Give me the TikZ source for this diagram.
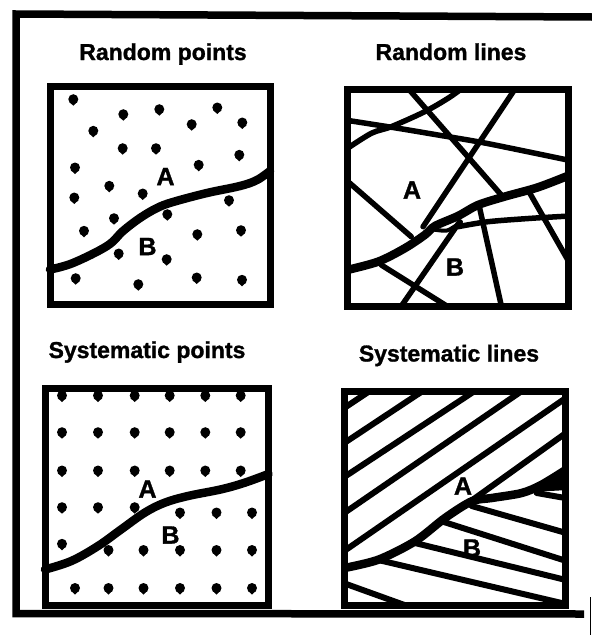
\documentclass[tikz,border=0pt]{standalone}
\usepackage{fontspec}
\setmainfont{Liberation Sans}[BoldFeatures={FakeBold=1.2}]
\begin{document}
\begin{tikzpicture}[x=1pt,y=-1pt,
  frame/.style={line width=7pt, line join=miter},
  rline/.style={line width=5.5pt, line cap=round, line join=round},
  sline/.style={line width=6pt, line cap=round, line join=round},
  bound/.style={line width=8.5pt, line cap=round, line join=round},
  title/.style={font=\fontsize{23}{27}\selectfont\bfseries, inner sep=0pt, anchor=base},
  lab/.style={font=\fontsize{25}{29}\selectfont\bfseries, inner sep=0pt},
  drop/.pic={\fill (0,-0.5) circle[radius=5]; \fill (-4.3,2) -- (0,6) -- (4.3,2) -- cycle;}]
\useasboundingbox (0,0) rectangle (592,635);
\fill[white] (0,0) rectangle (592,635);
% outer frame
\draw[line width=7.5pt, line join=miter] (592,17) -- (16,14) -- (16,613.5) -- (584,614);
\draw[line width=1.5pt] (590.5,597) -- (590.5,635);
% titles
\node[title] (t1) at (163,60) {Random points};
\node[title] (t2) at (451,60) {Random lines};
\node[title] (t3) at (147,358) {Systematic points};
\node[title] (t4) at (449,361.5) {Systematic lines};
% ---------- panel 1: random points ----------
\foreach \p in {(73.3,99.7),(123.3,114.7),(159.3,109.7),(217.3,108),(93.3,131.3),(191.7,124.7),(242.3,123),
  (122.7,148.7),(156,148.7),(239.3,155.3),(75,168),(198.7,165.3),(109.3,186.3),(142.7,194),(74.3,198),
  (229,200.7),(167.3,214.7),(114,218.7),(84,231.3),(197.3,234.7),(241,230.7),(118.7,254),(166.7,259.7),
  (75.7,278.7),(138.3,284.7),(196.7,278),(242,280.3)}
  \pic at \p {drop};
\draw[bound] plot[smooth, tension=0.6] coordinates {(50,269.5) (73,263) (107,246) (123,231) (140,218) (157,208) (173,202) (207,193) (240,186) (257,180) (270,171)};
\draw[frame] (50,86) rectangle (270,304);
\node[lab] (a1) at (165.5,176.5) {A};
\node[lab] (b1) at (147.5,246.5) {B};
% ---------- panel 2: random lines ----------
\begin{scope}
\clip (347,89) rectangle (568,306);
\draw[rline] (406,86) -- (501.3,195);
\draw[rline] (517,86) -- (423,226.7);
\draw[rline] plot[smooth] coordinates {(345,120) (398,128.3) (438,135) (486.3,143.3) (570,160.5)};
\draw[rline] plot[smooth] coordinates {(345,150) (371.3,133.3) (391.3,126.7) (424.7,111.7) (448,98.3) (464,87)};
\draw[rline] (345,179) -- (411.3,236.7);
\draw[bound] plot[smooth] coordinates {(345,270.5) (378,261.7) (404.7,248.3) (424.7,235) (435,226) (458,216) (478,205) (505,196.5) (538,187.3) (570,175)};
\draw[line width=4pt, line cap=round] plot[smooth] coordinates {(431,229) (447,230.5) (461,222)};
\draw[rline] plot[smooth] coordinates {(458,226.7) (488,221.7) (531.3,218.3) (570,216)};
\draw[rline] (459.7,221.7) -- (400,308);
\draw[rline] (479.7,208.3) -- (501.8,308);
\draw[rline] (528,190) -- (569,262);
\draw[rline] (381.3,265) -- (450,308);
\end{scope}
\draw[frame] (347,89) rectangle (568,306);
\node[lab] (a2) at (412,190) {A};
\node[lab] (b2) at (455,267) {B};
% ---------- panel 3: systematic points ----------
\foreach \y in {396,432.7,471} \foreach \x in {62,98,134.7,169.7,205.3,240.7} \pic at (\x,\y) {drop};
\foreach \x in {62,98,134.7} \pic at (\x,507.7) {drop};
\pic at (62,544.3) {drop};
\foreach \x in {180,216.5,252} \pic at (\x,513) {drop};
\foreach \x in {108.5,143.5,180,216.5,252} \pic at (\x,550.5) {drop};
\foreach \x in {75,108.5,143.5,180,216.5,252} \pic at (\x,588.5) {drop};
\draw[bound] plot[smooth, tension=0.6] coordinates {(45,569.5) (71.3,561) (98,546) (121.3,529.3) (144.7,512.7) (164.7,502.7) (188,496) (221.3,489.3) (244.7,482.7) (268.5,474)};
\draw[frame] (45,388) rectangle (268.5,605);
\node[lab] (a3) at (147.5,489) {A};
\node[lab] (b3) at (170.5,535) {B};
% ---------- panel 4: systematic lines ----------
\begin{scope}
\clip (344,391) rectangle (565.7,605.7);
\draw[sline] (342,409.5) -- (372,389.5);
\draw[sline] (342,444.5) -- (425,389.5);
\draw[sline] (342,478.5) -- (477,389.5);
\draw[sline] (342,514.5) -- (524,389.5);
\draw[sline] (342,552.5) -- (568,396.5);
\draw[sline] (471,501) -- (568,431.5);
\draw[bound] plot[smooth] coordinates {(342,568.5) (378.3,559.7) (415,541.3) (445,518) (471.7,501.3) (491.7,498) (521.7,493) (541.7,484.7) (568,468.5)};
\fill (531,492) -- (568,463) -- (568,490) -- cycle;
\draw[sline] (536.7,493) -- (568,498.5);
\draw[sline] (471.7,506) -- (568,533.5);
\draw[sline] (441.7,521.3) -- (568,561.5);
\draw[sline] (415,543) -- (568,580.5);
\draw[sline] (378.3,560) -- (568,604.5);
\draw[sline] (342,582.5) -- (410,607);
\end{scope}
\draw[frame] (344,391) rectangle (565.7,605.7);
\node[lab] (a4) at (463,486) {A};
\node[lab] (b4) at (472,548) {B};
\end{tikzpicture}
\end{document}
